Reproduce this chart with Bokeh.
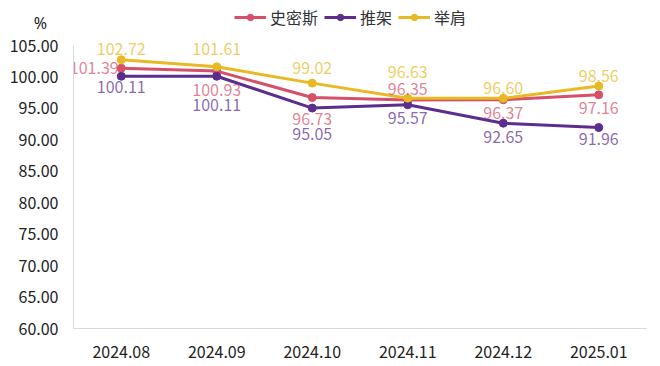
from bokeh.plotting import figure
from bokeh.layouts import column
from bokeh.models import (ColumnDataSource, FactorRange, Range1d, FixedTicker,
                          NumeralTickFormatter, Legend, LegendItem, Label)
from bokeh.core.properties import value
from bokeh.embed import file_html
from bokeh.resources import INLINE

months = ["2024.08", "2024.09", "2024.10", "2024.11", "2024.12", "2025.01"]
smith = [101.39, 100.93, 96.73, 96.35, 96.37, 97.16]
tuijia = [100.11, 100.11, 95.05, 95.57, 92.65, 91.96]
jujian = [102.72, 101.61, 99.02, 96.63, 96.60, 98.56]
y_ticks = [60, 65, 70, 75, 80, 85, 90, 95, 100, 105]
series_names = ["史密斯", "推架", "举肩"]

# label placement (screen px offsets, style only)
smith_dx = [-27, 0, 0, 0, 0, 0]
smith_dy = [0, 19, 21, -11, 13, 13]
tuijia_dy = [11, 29, 26, 13, 14, 11]
jujian_dy = [-11, -18, -15, -26, -10, -10]

FONT = "Noto Sans CJK SC"
RED, PURPLE, GOLD = "#d6506a", "#5b2d8e", "#e8b923"
TOP_H = 33

# ---- header figure: "%" and legend ----
top = figure(width=660, height=TOP_H, x_range=Range1d(0, 1), y_range=Range1d(0, 1),
             output_backend="svg", toolbar_location=None,
             min_border_left=0, min_border_right=0, min_border_top=0, min_border_bottom=0)
top.frame_align = False
top.axis.visible = False
top.grid.grid_line_color = None
top.outline_line_color = None

nan = float("nan")
items = []
for name, col in zip(series_names, [RED, PURPLE, GOLD]):
    src = ColumnDataSource(dict(x=[nan], y=[nan]))
    ln = top.line("x", "y", source=src, line_color=col, line_width=3)
    sc = top.scatter("x", "y", source=src, size=7, fill_color=col, line_color=col)
    items.append(LegendItem(label=name, renderers=[ln, sc], index=0))
legend = Legend(items=items, orientation="horizontal", location=(234, 4),
                label_text_font=FONT, label_text_font_size="16px", label_text_color="#333333",
                glyph_width=32, glyph_height=16, label_standoff=4, spacing=6,
                padding=0, margin=0, border_line_color=None, background_fill_alpha=0)
top.add_layout(legend, "center")
top.add_layout(Label(x=40, y=TOP_H - 22, x_units="screen", y_units="screen", text="%",
                     text_font="Noto Sans", text_font_size="16px", text_color="#222222",
                     text_align="center", text_baseline="middle"))

# ---- main chart ----
p = figure(width=660, height=366 - TOP_H, x_range=FactorRange(*months),
           y_range=Range1d(60, 106.91), output_backend="svg", toolbar_location=None,
           min_border_left=73, min_border_right=14, min_border_top=0, min_border_bottom=38)
p.outline_line_color = None
p.xgrid.grid_line_color = None
p.ygrid.grid_line_color = None

for ax in (p.xaxis[0], p.yaxis[0]):
    ax.axis_line_color = "#d9d9d9"
    ax.axis_line_width = 1
    ax.major_tick_line_color = None
    ax.minor_tick_line_color = None
    ax.major_label_text_font = FONT
    ax.major_label_text_font_size = "16px"
    ax.major_label_text_color = "#222222"
p.yaxis.ticker = FixedTicker(ticks=y_ticks)
p.yaxis.bounds = (60, 105)
p.yaxis.formatter = NumeralTickFormatter(format="0.00")
p.yaxis.major_label_standoff = 9
p.xaxis.major_label_standoff = 11

series = [(smith, RED, smith_dx, smith_dy),
          (tuijia, PURPLE, [0] * 6, tuijia_dy),
          (jujian, GOLD, [0] * 6, jujian_dy)]
for vals, col, dx, dy in series:
    src = ColumnDataSource(dict(x=months, y=vals))
    p.line("x", "y", source=src, line_color=col, line_width=3)
    p.scatter("x", "y", source=src, size=8, fill_color=col, line_color=col)

for vals, col, dx, dy in series:
    src = ColumnDataSource(dict(x=months, y=vals, t=[f"{v:.2f}" for v in vals], dx=dx, dy=dy))
    p.text("x", "y", text="t", source=src, x_offset="dx", y_offset="dy",
           text_font=value(FONT), text_font_size="16px", text_color=col, text_alpha=0.72,
           text_align="center", text_baseline="middle")

layout = column(top, p, spacing=0)
open("out.html", "w").write(file_html(layout, INLINE))
